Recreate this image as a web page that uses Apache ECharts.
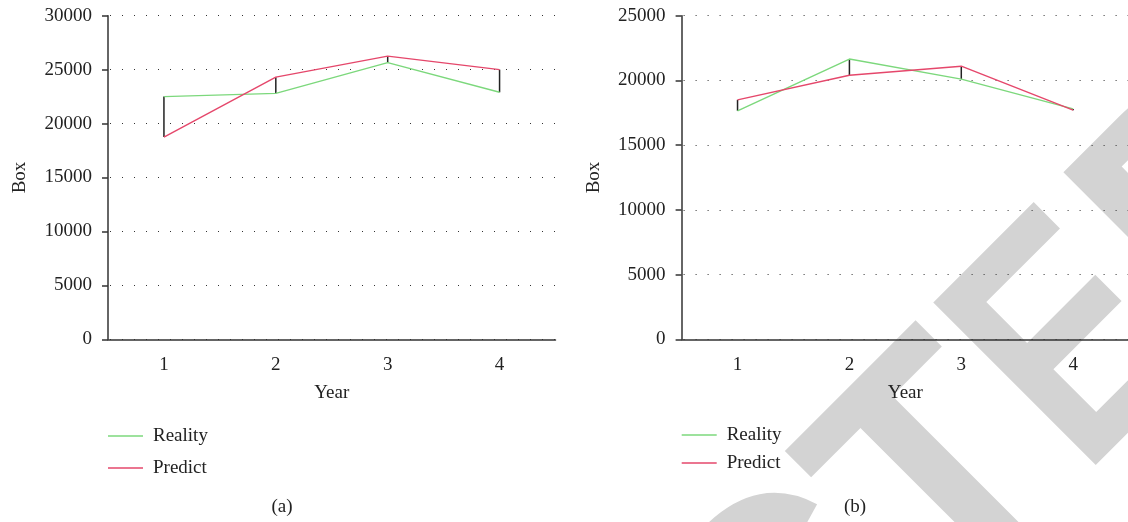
<!DOCTYPE html>
<html>
<head>
<meta charset="utf-8">
<script src="https://cdn.jsdelivr.net/npm/echarts@6/dist/echarts.min.js"></script>
<style>
html,body{margin:0;padding:0;background:#fff;}
#chart{width:1128px;height:522px;}
</style>
</head>
<body>
<div id="chart"></div>
<script>
// ---- data ----
const categories = ['1', '2', '3', '4'];
const realityA = [22500, 22800, 25650, 22900];
const predictA = [18750, 24300, 26250, 25000];
const realityB = [17650, 21650, 20100, 17800];
const predictB = [18500, 20400, 21100, 17700];
const yMaxA = 30000;
const yMaxB = 25000;
const yInterval = 5000;
const seriesNames = ['Reality', 'Predict'];
const panelLabels = ['(a)', '(b)'];
const xAxisName = 'Year';
const yAxisName = 'Box';
const watermarkParts = ['RETRACT', 'E', 'D'];

// ---- styles ----
const FONT = '"Liberation Serif", "Times New Roman", serif';
const WFONT = '"Liberation Sans", Arial, sans-serif';
const TXT = '#222';
const GREEN = '#7cd87c';
const RED = '#e5476b';
const AXIS = '#333';

function xAxisCfg(gridIndex) {
  return {
    type: 'category', gridIndex: gridIndex, data: categories, boundaryGap: true,
    name: xAxisName, nameLocation: 'middle', nameGap: 44,
    nameTextStyle: { fontFamily: FONT, fontSize: 19, color: TXT },
    axisLine: { lineStyle: { color: AXIS, width: 1.5 } },
    axisTick: { alignWithLabel: true, length: 6, lineStyle: { color: AXIS, width: 1.5 } },
    axisLabel: { fontFamily: FONT, fontSize: 19, color: TXT, margin: 16 },
    splitLine: { show: false }
  };
}
function yAxisCfg(gridIndex, max) {
  return {
    type: 'value', gridIndex: gridIndex, min: 0, max: max, interval: yInterval,
    name: yAxisName, nameLocation: 'middle', nameGap: 78,
    nameTextStyle: { fontFamily: FONT, fontSize: 19, color: TXT },
    axisLine: { show: true, lineStyle: { color: AXIS, width: 1.5 } },
    axisTick: { show: true, length: 6, lineStyle: { color: AXIS, width: 1.5 } },
    axisLabel: { fontFamily: FONT, fontSize: 19, color: TXT, margin: 16,
      formatter: function (v) { return String(v); } },
    splitLine: { show: true, lineStyle: { color: '#333', width: 1.2, type: [1, 11], dashOffset: 10 } }
  };
}
function lineSeries(name, data, color, idx) {
  return {
    name: name, type: 'line', data: data, xAxisIndex: idx, yAxisIndex: idx,
    symbol: 'none', showSymbol: false, lineStyle: { color: color, width: 1.4 },
    itemStyle: { color: color }, z: 3, animation: false
  };
}
function errSeries(real, pred, idx) {
  const d = categories.map((c, i) => [i, real[i], pred[i]]);
  return {
    type: 'custom', xAxisIndex: idx, yAxisIndex: idx, data: d, z: 2, animation: false,
    renderItem: function (params, api) {
      const a = api.coord([api.value(0), api.value(1)]);
      const b = api.coord([api.value(0), api.value(2)]);
      return { type: 'line', shape: { x1: a[0], y1: a[1], x2: b[0], y2: b[1] },
        style: { stroke: '#222', lineWidth: 1.5 } };
    }
  };
}
function legendCfg(left, top, gap) {
  return {
    show: true, orient: 'vertical', left: left, top: top, padding: 0,
    icon: 'rect', itemWidth: 35, itemHeight: 1.5, itemGap: gap,
    data: seriesNames.map(n => ({ name: n })),
    textStyle: { fontFamily: FONT, fontSize: 19, color: TXT, lineHeight: 20, padding: [0, 0, 0, 5] },
    selectedMode: false
  };
}
function wm(text, x, y, align, sx) {
  return { type: 'text', z: -10, x: x, y: y, rotation: Math.PI / 4, scaleX: sx, scaleY: 1, silent: true,
    style: { text: text, fontFamily: WFONT, fontWeight: 'bold', fontSize: 334,
      fill: '#d3d3d3', align: align, verticalAlign: 'middle' } };
}

const option = {
  backgroundColor: '#fff',
  animation: false,
  grid: [
    { left: 108, top: 15.7, width: 447.5, height: 323.6, outerBoundsMode: 'none' },
    { left: 681.6, top: 15.7, width: 447.5, height: 323.6, outerBoundsMode: 'none' }
  ],
  xAxis: [xAxisCfg(0), xAxisCfg(1)],
  yAxis: [yAxisCfg(0, yMaxA), yAxisCfg(1, yMaxB)],
  legend: [legendCfg(108, 426, 12), legendCfg(681.7, 425, 8)],
  series: [
    lineSeries(seriesNames[0], realityA, GREEN, 0),
    lineSeries(seriesNames[1], predictA, RED, 0),
    errSeries(realityA, predictA, 0),
    lineSeries(seriesNames[0], realityB, GREEN, 1),
    lineSeries(seriesNames[1], predictB, RED, 1),
    errSeries(realityB, predictB, 1)
  ],
  graphic: [
    wm(watermarkParts[0], 1015.3, 415.2, 'right', 0.94),
    wm(watermarkParts[1], 1018.2, 412.3, 'left', 0.786),
    wm(watermarkParts[2], 1145.9, 284.5, 'left', 0.94),
    { type: 'text', x: 282, y: 507, silent: true,
      style: { text: panelLabels[0], fontFamily: FONT, fontSize: 19, fill: TXT, align: 'center', verticalAlign: 'middle' } },
    { type: 'text', x: 855, y: 507, silent: true,
      style: { text: panelLabels[1], fontFamily: FONT, fontSize: 19, fill: TXT, align: 'center', verticalAlign: 'middle' } }
  ]
};
const chart = echarts.init(document.getElementById('chart'), null, { renderer: 'canvas' });
chart.setOption(option);
</script>
</body>
</html>
